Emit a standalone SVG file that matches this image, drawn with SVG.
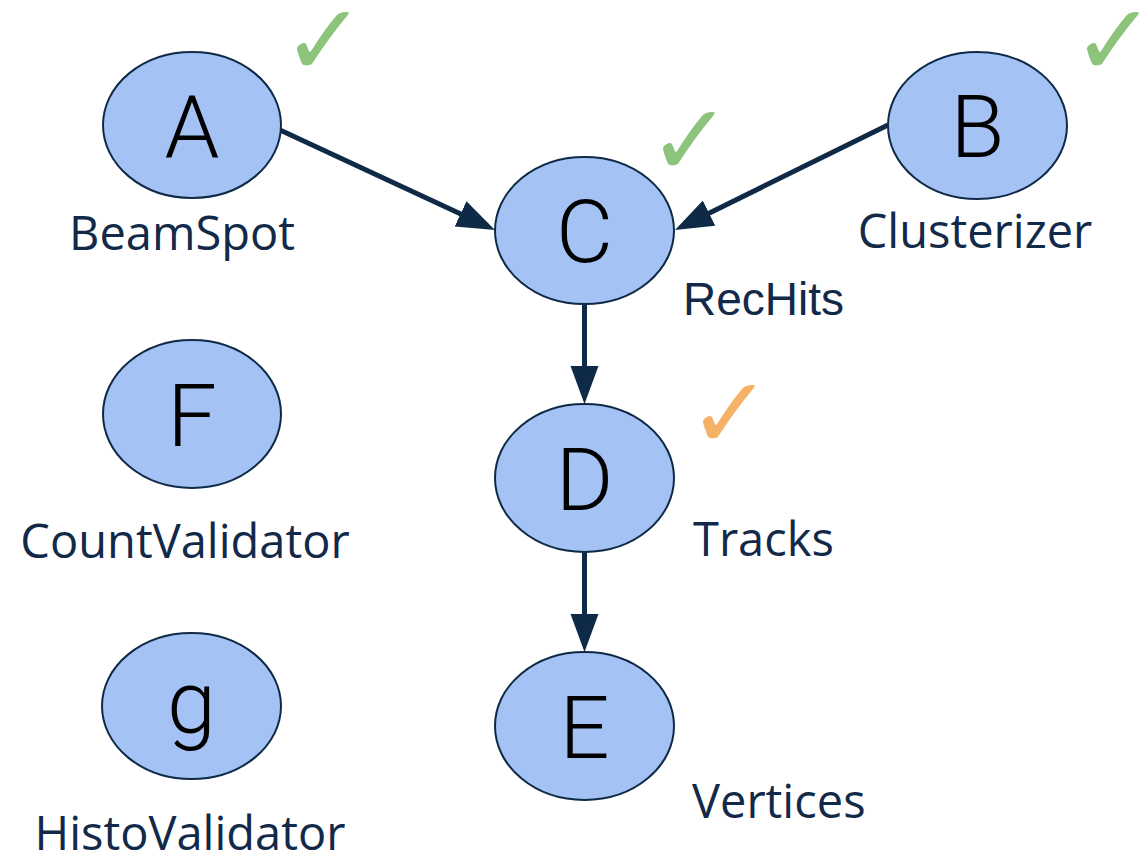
<svg xmlns="http://www.w3.org/2000/svg" width="1145" height="856" viewBox="0 0 1145 856">
  <style>
    .node ellipse { fill: #a4c2f4; stroke: #0f2a47; stroke-width: 2; }
    .letter { font-family: Roboto, "Liberation Sans", sans-serif; font-weight: 300; font-size: 88px; fill: #000; text-anchor: middle; }
    .label { font-family: "Open Sans", "Liberation Sans", sans-serif; font-size: 47px; fill: #12294a; }
    .label-arial { font-family: "Liberation Sans", Arial, sans-serif; font-size: 46px; fill: #12294a; }
    .check { font-family: "DejaVu Sans", sans-serif; font-size: 100px; text-anchor: middle; }
    .ok { fill: #8cc47b; }
    .pending { fill: #f5b266; }
    .edge { stroke: #0f2a47; stroke-width: 5; fill: none; marker-end: url(#arrow); }
  </style>
  <defs>
    <marker id="arrow" markerUnits="userSpaceOnUse" markerWidth="40" markerHeight="30" refX="8" refY="14" orient="auto">
      <path d="M0,0 L38,14 L0,28 Z" fill="#0f2a47"/>
    </marker>
  </defs>

  <rect width="1145" height="856" fill="#ffffff"/>

  <g id="connectors">
    <line class="edge" x1="280" y1="130" x2="467.8" y2="217.3"/>
    <line class="edge" x1="888" y1="125" x2="701.9" y2="216.7"/>
    <line class="edge" x1="584.5" y1="304" x2="584.5" y2="374"/>
    <line class="edge" x1="584.5" y1="552" x2="584.5" y2="622"/>
  </g>

  <g id="node-A" class="node">
    <ellipse cx="192" cy="125" rx="89" ry="73"/>
    <text class="letter" x="192" y="157">A</text>
    <text class="label" x="182" y="250" text-anchor="middle">BeamSpot</text>
    <text class="check ok" x="324" y="75">✓</text>
  </g>

  <g id="node-B" class="node">
    <ellipse cx="977.5" cy="125.5" rx="89.5" ry="73.5"/>
    <text class="letter" x="977.5" y="157">B</text>
    <text class="label" x="975" y="248" text-anchor="middle">Clusterizer</text>
    <text class="check ok" x="1114" y="75">✓</text>
  </g>

  <g id="node-C" class="node">
    <ellipse cx="584.5" cy="230.5" rx="89.5" ry="73.5"/>
    <text class="letter" x="584.5" y="262">C</text>
    <text class="label-arial" x="683" y="315">RecHits</text>
    <text class="check ok" x="690" y="175">✓</text>
  </g>

  <g id="node-D" class="node">
    <ellipse cx="584.5" cy="478" rx="89.5" ry="74"/>
    <text class="letter" x="584.5" y="510">D</text>
    <text class="label" x="693" y="556">Tracks</text>
    <text class="check pending" x="730" y="448">✓</text>
  </g>

  <g id="node-E" class="node">
    <ellipse cx="584.5" cy="726" rx="89.5" ry="74"/>
    <text class="letter" x="584.5" y="758">E</text>
    <text class="label" x="692" y="818">Vertices</text>
  </g>

  <g id="node-F" class="node">
    <ellipse cx="192" cy="414" rx="89" ry="74"/>
    <text class="letter" x="192" y="446">F</text>
    <text class="label" x="185" y="558" text-anchor="middle">CountValidator</text>
  </g>

  <g id="node-g" class="node">
    <ellipse cx="191.5" cy="706" rx="89.5" ry="73"/>
    <text class="letter" x="191.5" y="733">g</text>
    <text class="label" x="190" y="850" text-anchor="middle">HistoValidator</text>
  </g>
</svg>
